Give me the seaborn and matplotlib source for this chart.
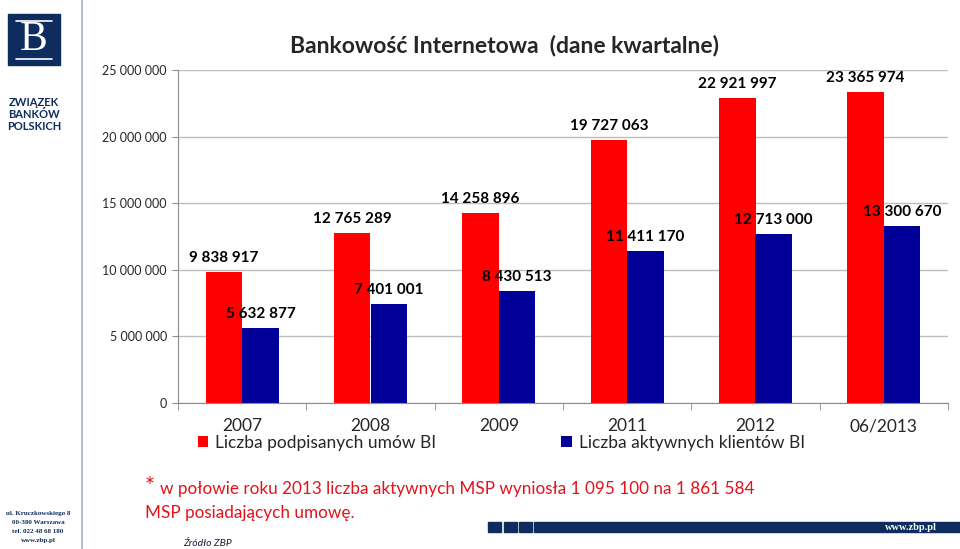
import matplotlib
matplotlib.use("Agg")
import matplotlib.pyplot as plt
import matplotlib.patches as mpatches
from matplotlib.ticker import FuncFormatter, FixedLocator
import seaborn as sns
import pandas as pd

periods = ["2007", "2008", "2009", "2011", "2012", "06/2013"]
umowy = [9838917, 12765289, 14258896, 19727063, 22921997, 23365974]
klienci = [5632877, 7401001, 8430513, 11411170, 12713000, 13300670]
series_names = ["Liczba podpisanych umów BI", "Liczba aktywnych klientów BI"]
colors = ["#FF0000", "#000099"]

title = "Bankowość Internetowa  (dane kwartalne)"
note_line1 = "w połowie roku 2013 liczba aktywnych MSP wyniosła 1 095 100 na 1 861 584"
note_line2 = "MSP posiadających umowę."
source = "Źródło ZBP"
address = ["ul. Kruczkowskiego 8", "00-380 Warszawa", "tel. 022 48 68 180", "www.zbp.pl"]

df = pd.DataFrame({
    "okres": periods * 2,
    "wartosc": umowy + klienci,
    "seria": [series_names[0]] * len(periods) + [series_names[1]] * len(periods),
})

sns.set_style("white")
plt.rcParams["font.family"] = ["Lato", "DejaVu Sans"]
SERIF = ["Liberation Serif", "DejaVu Serif"]
NAVY = "#0E2D5E"
NOTE_RED = "#E3121B"


def fmt_num(v, pos=None):
    return f"{v:,.0f}".replace(",", " ")


fig = plt.figure(figsize=(9.6, 5.49), dpi=100)
ax = fig.add_axes([178 / 960, 1 - 403 / 549, 770 / 960, 333 / 549])

sns.barplot(
    data=df, x="okres", y="wartosc", hue="seria",
    palette=colors, width=0.57, ax=ax, legend=True,
    saturation=1, errorbar=None, linewidth=0,
)

for cont in ax.containers:
    ax.bar_label(cont, labels=[fmt_num(v) for v in cont.datavalues],
                 padding=5, fontsize=11, fontweight="bold", color="black")

ax.set_ylim(0, 25_000_000)
ax.set_yticks(range(0, 25_000_001, 5_000_000))
ax.yaxis.set_major_formatter(FuncFormatter(fmt_num))
ax.set_xlim(-0.5, len(periods) - 0.5)
ax.set_xlabel("")
ax.set_ylabel("")
ax.grid(axis="y", color="#BDBDBD", linewidth=1)
ax.set_axisbelow(True)
for side in ["top", "right"]:
    ax.spines[side].set_visible(False)
for side in ["left", "bottom"]:
    ax.spines[side].set_color("#8C8C8C")
ax.tick_params(axis="y", labelsize=9, length=4, color="#8C8C8C", pad=4, left=True)
ax.tick_params(axis="x", which="major", labelsize=12.5, length=0, pad=11)
ax.xaxis.set_minor_locator(FixedLocator([i - 0.5 for i in range(len(periods) + 1)]))
ax.tick_params(axis="x", which="minor", length=5, color="#8C8C8C", bottom=True)

handles, labels = ax.get_legend_handles_labels()
ax.legend(handles, labels, ncol=2, loc="center left",
          bbox_to_anchor=(198 / 960, 1 - 443 / 549), bbox_transform=fig.transFigure,
          frameon=False, fontsize=12.5, handlelength=0.6, handleheight=0.6,
          handletextpad=0.4, columnspacing=7.2, borderpad=0, borderaxespad=0)

fig.text(504 / 960, 1 - 45 / 549, title, ha="center", va="center",
         fontsize=16.5, fontweight="bold")

# footnote
fig.text(145 / 960, 1 - 487 / 549, "*", ha="left", va="center", fontsize=17, color=NOTE_RED)
fig.text(160 / 960, 1 - 489 / 549, note_line1, ha="left", va="center", fontsize=12.3, color=NOTE_RED)
fig.text(145 / 960, 1 - 513 / 549, note_line2, ha="left", va="center", fontsize=12.3, color=NOTE_RED)
fig.text(183 / 960, 1 - 543 / 549, source, ha="left", va="center", fontsize=7.5,
         style="italic", color="#1F1F3F")

# sidebar
fig.add_artist(plt.Line2D([82 / 960, 82 / 960], [0, 1], transform=fig.transFigure,
                          color="#A7B2C6", linewidth=1.2))
fig.add_artist(mpatches.Rectangle((8 / 960, 1 - 65 / 549), 52 / 960, 51 / 549,
                                  transform=fig.transFigure, color=NAVY))
fig.text(34 / 960, 1 - 40 / 549, "B", ha="center", va="center", fontsize=30,
         family=SERIF, color="white")
for yy in [21, 59]:
    fig.add_artist(plt.Line2D([16 / 960, 52 / 960], [1 - yy / 549] * 2,
                              transform=fig.transFigure, color="white", linewidth=1.2))
for i, word in enumerate(["ZWIĄZEK", "BANKÓW", "POLSKICH"]):
    fig.text(34 / 960, 1 - (103 + 12 * i) / 549, word, ha="center", va="center",
             fontsize=8, fontweight="bold", color=NAVY)
for i, line in enumerate(address):
    fig.text(38 / 960, 1 - (514 + 8.7 * i) / 549, line, ha="center", va="center",
             fontsize=5, fontweight="bold", family=SERIF, color=NAVY)

# bottom strip
for x0, w in [(488, 12.5), (504, 13), (519, 13), (533.5, 427)]:
    fig.add_artist(mpatches.Rectangle((x0 / 960, 1 - 532 / 549), w / 960, 10 / 549,
                                      transform=fig.transFigure, color=NAVY))
fig.text(911 / 960, 1 - 527 / 549, "www.zbp.pl", ha="center", va="center",
         fontsize=7.5, fontweight="bold", family=SERIF, color="white")

fig.savefig("out.png", dpi=100)
